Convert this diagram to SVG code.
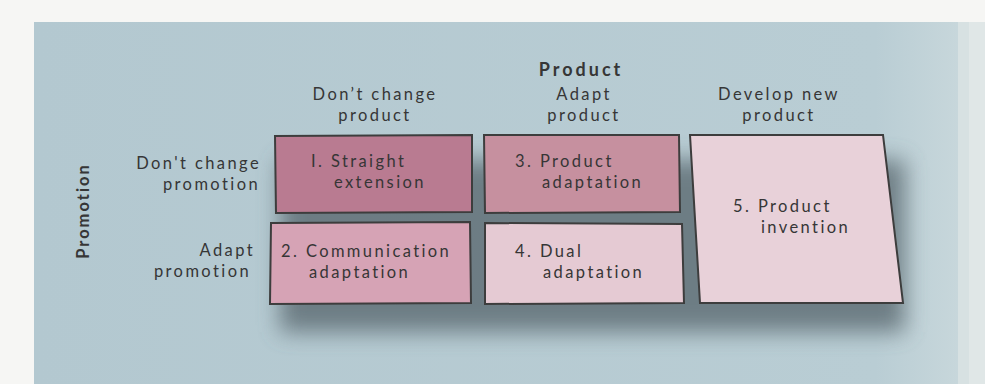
<svg xmlns="http://www.w3.org/2000/svg" width="985" height="384" viewBox="0 0 985 384">
<defs>
<style>
.t{font-family:"Lato","Open Sans","DejaVu Sans",sans-serif;font-size:16.5px;letter-spacing:2.4px;fill:#363636}
.b{font-weight:bold;letter-spacing:2px}
.h{font-size:18px;letter-spacing:3px}
.box{stroke:#3d3d3d;stroke-width:2}
.r{text-anchor:end}
.m{text-anchor:middle}
</style>
<filter id="blur" x="-20%" y="-40%" width="140%" height="180%"><feGaussianBlur stdDeviation="11"/></filter>
<linearGradient id="bg" x1="0" y1="0" x2="1" y2="0">
<stop offset="0" stop-color="#b3c8d0"/>
<stop offset="0.9" stop-color="#b9cdd4"/>
<stop offset="1" stop-color="#c9d8dc"/>
</linearGradient>
</defs>
<rect width="985" height="384" fill="#f6f6f4"/>
<rect x="34" y="22" width="935" height="362" fill="url(#bg)"/>
<rect x="958" y="22" width="27" height="362" fill="#dbe3e4" opacity="0.8"/>
<g id="shadow" filter="url(#blur)" opacity="0.75">
<rect x="280" y="160" width="625" height="172" fill="#55636a"/>
</g>
<text class="t b h m" x="581" y="76">Product</text>
<g id="col-headers">
<text class="t m" x="375" y="100">Don’t change</text>
<text class="t m" x="375" y="121">product</text>
<text class="t m" x="584" y="100">Adapt</text>
<text class="t m" x="584" y="121">product</text>
<text class="t m" x="779" y="100">Develop new</text>
<text class="t m" x="779" y="121">product</text>
</g>
<g id="row-headers">
<text class="t r" x="261" y="169">Don't change</text>
<text class="t r" x="260" y="190">promotion</text>
<text class="t r" x="255" y="256">Adapt</text>
<text class="t r" x="251" y="277">promotion</text>
<text class="t b m" transform="translate(89,211) rotate(-90)">Promotion</text>
</g>
<g id="n1">
<path class="box" d="M275,136 L472,135 L472,212 L276,213 Z" fill="#b97b91"/>
<text class="t" x="311" y="167">I. Straight</text>
<text class="t" x="334" y="188">extension</text>
</g>
<g id="n2">
<path class="box" d="M271,223 L470,222 L471,303 L270,304 Z" fill="#d6a3b5"/>
<text class="t" x="281" y="257">2. Communication</text>
<text class="t" x="309" y="278">adaptation</text>
</g>
<g id="n3">
<path class="box" d="M484,135 L679,135 L680,212 L485,213 Z" fill="#c6909f"/>
<text class="t" x="515" y="167">3. Product</text>
<text class="t" x="542" y="188">adaptation</text>
</g>
<g id="n4">
<path class="box" d="M485,223 L682,224 L684,303 L485,304 Z" fill="#e5cad3"/>
<text class="t" x="515" y="257">4. Dual</text>
<text class="t" x="543" y="278">adaptation</text>
</g>
<g id="n5">
<path class="box" d="M690,135 L883,135 L903,303 L700,303 Z" fill="#e8d1d9"/>
<text class="t" x="733" y="212">5. Product</text>
<text class="t" x="761" y="233">invention</text>
</g>
<g id="connectors"/>
</svg>
